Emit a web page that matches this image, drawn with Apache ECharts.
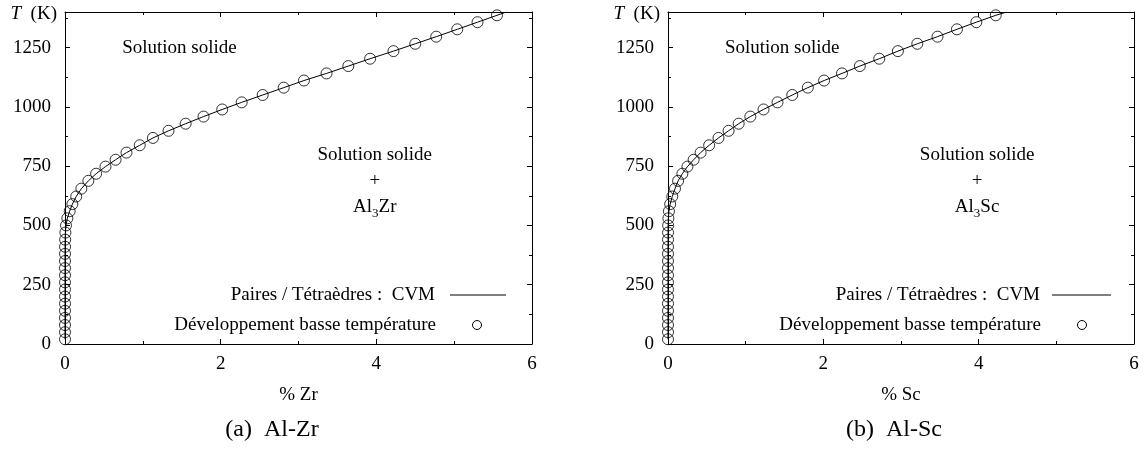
<!DOCTYPE html>
<html>
<head>
<meta charset="utf-8">
<script src="https://cdn.jsdelivr.net/npm/echarts@6/dist/echarts.min.js"></script>
<style>
  html, body { margin: 0; background: #fff; }
  #main { width: 1148px; height: 450px; }
</style>
</head>
<body>
<div id="main"></div>
<script>
// temperatures (K) of the low temperature expansion points, same for both panels
const tempK = [20, 50, 80, 110, 140, 170, 200, 230, 260, 290, 320, 350, 380, 410, 440, 470, 500, 530, 560, 590,
  622, 655, 688, 718, 748, 777, 807, 838, 869, 899, 929, 959, 989, 1019, 1050, 1081, 1111, 1141, 1172, 1203,
  1235, 1266, 1296, 1327, 1357, 1386];
// solubility limit, at.% Zr
const zrPct = [0, 0, 0, 0, 0, 0, 0, 0, 0, 0, 0, 0, 0.0003, 0.0008, 0.002, 0.005, 0.013, 0.03, 0.06, 0.095,
  0.144, 0.21, 0.30, 0.40, 0.52, 0.65, 0.79, 0.96, 1.13, 1.33, 1.55, 1.78, 2.02, 2.27, 2.54, 2.81, 3.07, 3.36, 3.64, 3.92,
  4.22, 4.50, 4.77, 5.04, 5.30, 5.55];
// solubility limit, at.% Sc
const scPct = [0, 0, 0, 0, 0, 0, 0, 0, 0, 0, 0, 0, 0, 0, 0.0005, 0.001, 0.002, 0.005, 0.012, 0.028,
  0.055, 0.09, 0.13, 0.185, 0.25, 0.33, 0.42, 0.53, 0.65, 0.78, 0.91, 1.06, 1.23, 1.41, 1.60, 1.80, 2.01, 2.24, 2.47, 2.72,
  2.96, 3.21, 3.47, 3.72, 3.97, 4.22];
// CVM curve continues up to the top frame
const zrCvmEnd = [5.67, 1400];
const scCvmEnd = [4.36, 1400];

const xTicks = [0, 2, 4, 6];
const yTicks = [0, 250, 500, 750, 1000, 1250];

const FONT = 'Liberation Serif';
const BLACK = '#000';

const panels = [
  { el: 'Zr', pct: zrPct, end: zrCvmEnd, grid: { left: 65, top: 12, width: 467, height: 332 },
    legend: { textRight: 435, lineFrom: 450, lineTo: 506, mark: 477 }, caption: { text: '(a)  Al-Zr', x: 272 } },
  { el: 'Sc', pct: scPct, end: scCvmEnd, grid: { left: 668, top: 12, width: 466, height: 332 },
    legend: { textRight: 1040, lineFrom: 1052, lineTo: 1111, mark: 1082 }, caption: { text: '(b)  Al-Sc', x: 894 } }
];

function pairs(xs, ys) {
  return xs.map((x, i) => [x, ys[i]]);
}

const txt = { fontFamily: FONT, fontSize: 19, color: BLACK };
const line = { lineStyle: { color: BLACK, width: 1 } };

let xAxis = [], yAxis = [], series = [];
panels.forEach((p, g) => {
  ['bottom', 'top'].forEach(pos => {
    xAxis.push({
      type: 'value', gridIndex: g, position: pos, min: 0, max: 6, interval: 2,
      name: pos === 'bottom' ? '% ' + p.el : '',
      nameLocation: 'middle', nameGap: 42, nameTextStyle: txt,
      axisLine: { show: true, onZero: false, ...line },
      axisTick: { show: true, inside: true, length: 5, ...line },
      minorTick: { show: true, splitNumber: 2, length: 3, ...line },
      axisLabel: { show: pos === 'bottom', margin: 11, ...txt,
        formatter: v => xTicks.includes(v) ? String(v) : '' },
      splitLine: { show: false }
    });
  });
  ['left', 'right'].forEach(pos => {
    yAxis.push({
      type: 'value', gridIndex: g, position: pos, min: 0, max: 1400, interval: 250,
      axisLine: { show: true, onZero: false, ...line },
      axisTick: { show: true, inside: true, length: 5, ...line },
      minorTick: { show: true, splitNumber: 2, length: 3, ...line },
      axisLabel: { show: pos === 'left', margin: 14, showMaxLabel: false, ...txt,
        formatter: v => yTicks.includes(v) ? String(v) : '' },
      splitLine: { show: false }
    });
  });
  const markers = pairs(p.pct, tempK);
  series.push({
    name: 'CVM', type: 'line', xAxisIndex: 2 * g, yAxisIndex: 2 * g,
    data: markers.concat([p.end]), showSymbol: false, clip: true,
    lineStyle: { color: BLACK, width: 1 }, z: 2
  });
  series.push({
    name: 'BT', type: 'scatter', xAxisIndex: 2 * g, yAxisIndex: 2 * g,
    data: markers, symbol: 'circle', symbolSize: 11,
    itemStyle: { color: 'rgba(0,0,0,0)', borderColor: BLACK, borderWidth: 1 }, z: 3
  });
});

const chart = echarts.init(document.getElementById('main'), null, { renderer: 'canvas' });
chart.setOption({
  animation: false,
  backgroundColor: '#fff',
  grid: panels.map(p => ({ ...p.grid, containLabel: false })),
  xAxis, yAxis, series
});

// texts: phase regions, T axis title, key and captions
const rich = {
  n: { fontFamily: FONT, fontSize: 19, lineHeight: 26, fill: BLACK },
  s: { fontFamily: FONT, fontSize: 13, lineHeight: 14, verticalAlign: 'bottom', fill: BLACK },
  i: { fontFamily: FONT, fontSize: 19, fontStyle: 'italic', fill: BLACK }
};
const graphic = [];
panels.forEach((p, g) => {
  const toPx = (x, t) => chart.convertToPixel({ xAxisIndex: 2 * g, yAxisIndex: 2 * g }, [x, t]);
  const a = toPx(1.47, 1250);
  graphic.push({ type: 'text', x: a[0], y: a[1],
    style: { text: 'Solution solide', font: '19px ' + FONT, fill: BLACK, align: 'center', verticalAlign: 'middle' } });
  const b = toPx(3.98, 797);
  graphic.push({ type: 'text', x: b[0], y: b[1] - 13,
    style: { text: '{n|Solution solide}\n{n|+}\n{n|Al}{s|3}{n|' + p.el + '}', rich, align: 'center', verticalAlign: 'top' } });
  graphic.push({ type: 'text', x: p.grid.left - 8, y: 14,
    style: { text: '{i|T}{n|  (K)}', rich: { ...rich, n: { ...rich.n, lineHeight: 19 } }, align: 'right', verticalAlign: 'middle' } });
  const L = p.legend;
  graphic.push({ type: 'text', x: L.textRight, y: 295,
    style: { text: 'Paires / Tétraèdres :  CVM', font: '19px ' + FONT, fill: BLACK, align: 'right', verticalAlign: 'middle' } });
  graphic.push({ type: 'line', shape: { x1: L.lineFrom, y1: 295, x2: L.lineTo, y2: 295 },
    style: { stroke: BLACK, lineWidth: 1 } });
  graphic.push({ type: 'text', x: L.textRight + 1, y: 325,
    style: { text: 'Développement basse température', font: '19px ' + FONT, fill: BLACK, align: 'right', verticalAlign: 'middle' } });
  graphic.push({ type: 'circle', shape: { cx: L.mark, cy: 325, r: 4.5 },
    style: { fill: 'none', stroke: BLACK, lineWidth: 1 } });
  graphic.push({ type: 'text', x: p.caption.x, y: 430,
    style: { text: p.caption.text, font: '24px ' + FONT, fill: BLACK, align: 'center', verticalAlign: 'middle' } });
});
chart.setOption({ graphic });
</script>
</body>
</html>
